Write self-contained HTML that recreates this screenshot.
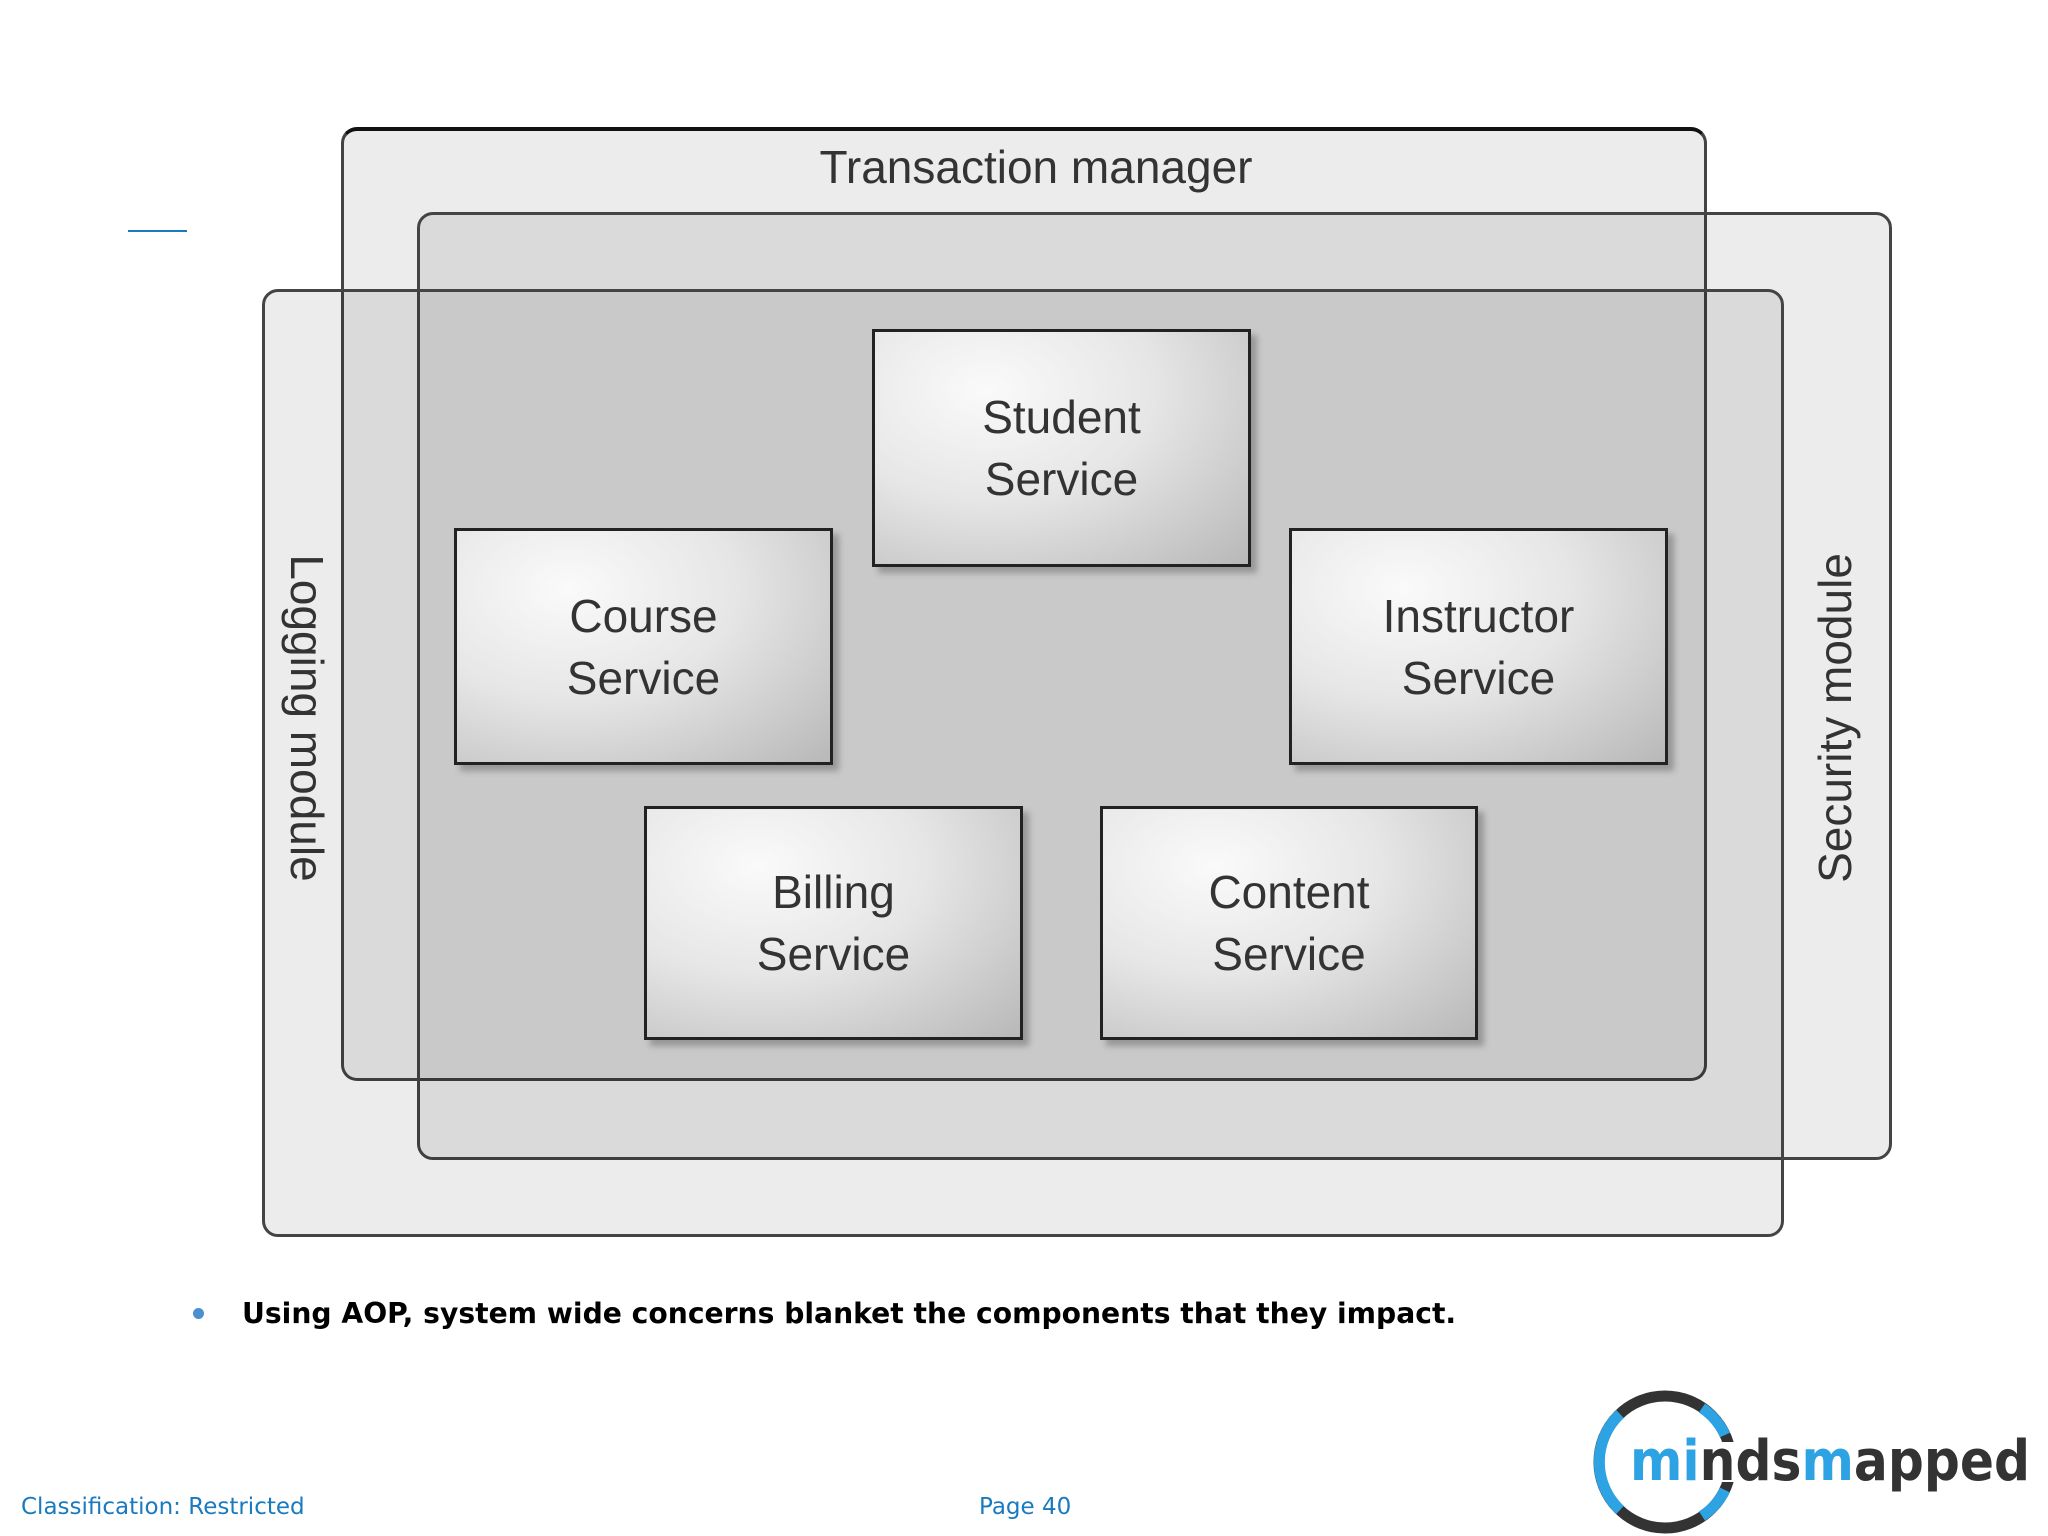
<!DOCTYPE html>
<html><head><meta charset="utf-8"><style>
html,body{margin:0;padding:0;background:#fff;}
body{width:2048px;height:1536px;position:relative;overflow:hidden;font-family:"Liberation Sans",sans-serif;}
.r{position:absolute;border:3px solid #444;border-radius:16px;background:rgba(0,0,0,0.075);box-sizing:border-box;}
.b{position:absolute;box-sizing:border-box;border:3px solid #222;background:radial-gradient(ellipse at 30% 25%,#fafafa 0%,#e6e6e6 45%,#b8b8b8 100%);box-shadow:6px 6px 6px rgba(0,0,0,0.25);display:flex;align-items:center;justify-content:center;text-align:center;font-size:46px;line-height:62px;color:#333;}
.t{position:absolute;font-size:46px;color:#333;white-space:nowrap;}
</style></head><body>
<div style="position:absolute;left:128px;top:230px;width:59px;height:2px;background:#1a7abf"></div>
<div class="r" style="left:341px;top:127px;width:1366px;height:954px;border-top:4px solid #111"></div>
<div class="r" style="left:417px;top:212px;width:1475px;height:948px;"></div>
<div class="r" style="left:262px;top:289px;width:1522px;height:948px;"></div>
<div class="t" style="left:1036px;top:167px;transform:translate(-50%,-50%)">Transaction manager</div>
<div class="t" style="left:307px;top:718px;transform:translate(-50%,-50%) rotate(90deg)">Logging module</div>
<div class="t" style="left:1835px;top:718px;transform:translate(-50%,-50%) rotate(-90deg)">Security module</div>
<div class="b" style="left:872px;top:329px;width:379px;height:238px">Student<br>Service</div>
<div class="b" style="left:454px;top:528px;width:379px;height:237px">Course<br>Service</div>
<div class="b" style="left:1289px;top:528px;width:379px;height:237px">Instructor<br>Service</div>
<div class="b" style="left:644px;top:806px;width:379px;height:234px">Billing<br>Service</div>
<div class="b" style="left:1100px;top:806px;width:378px;height:234px">Content<br>Service</div>
<div style="position:absolute;left:193px;top:1308px;width:11px;height:11px;border-radius:50%;background:#4a90d0"></div>
<div style="position:absolute;left:242px;top:1297px;font-family:'DejaVu Sans',sans-serif;font-size:28.2px;font-weight:bold;color:#000;white-space:nowrap">Using AOP, system wide concerns blanket the components that they impact.</div>
<div style="position:absolute;left:21px;top:1494px;font-family:'DejaVu Sans',sans-serif;font-size:23px;color:#1a7abf">Classification: Restricted</div>
<div style="position:absolute;left:979px;top:1494px;font-family:'DejaVu Sans',sans-serif;font-size:23px;color:#1a7abf">Page 40</div>
<svg style="position:absolute;left:1580px;top:1380px" width="468" height="156">
<circle cx="85" cy="82" r="66" fill="none" stroke="#333" stroke-width="11"/>
<path d="M40 34 A66 66 0 0 0 40 130" fill="none" stroke="#2ea3e3" stroke-width="11"/>
<path d="M122 28 A66 66 0 0 1 145 55" fill="none" stroke="#2ea3e3" stroke-width="11"/>
<path d="M145 110 A66 66 0 0 1 122 136" fill="none" stroke="#2ea3e3" stroke-width="11"/>
<rect x="140" y="62" width="20" height="40" fill="#fff"/>
<text x="50" y="100" font-family="DejaVu Sans" font-weight="bold" font-size="56" textLength="400" lengthAdjust="spacingAndGlyphs"><tspan fill="#2ea3e3">mi</tspan><tspan fill="#333">nds</tspan><tspan fill="#2ea3e3">m</tspan><tspan fill="#333">apped</tspan></text>
</svg>
</body></html>
